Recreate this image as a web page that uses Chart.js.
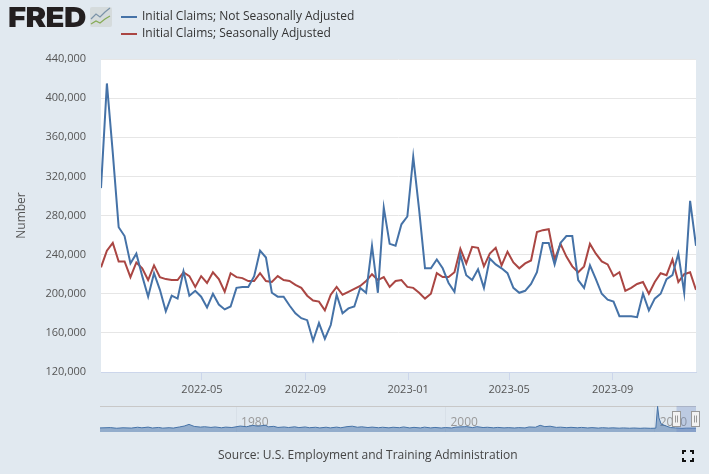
<!DOCTYPE html>
<html><head><meta charset="utf-8">
<script src="https://cdn.jsdelivr.net/npm/chart.js@4"></script>
<style>
html,body{margin:0;padding:0;background:#e1e9f0;width:709px;height:474px;overflow:hidden;font-family:"Open Sans",sans-serif}
#main{position:absolute;left:0;top:0}
#nav{position:absolute;left:90px;top:400px}
.abs{position:absolute;white-space:nowrap}
.leg{font-size:12px;color:#333;left:142px;line-height:16px}
.swatch{position:absolute;left:121px;width:16px;height:2px}
#logo{left:8px;top:2px;font:900 27.5px/30px Inter,sans-serif;letter-spacing:-.6px;color:#231f20;transform:scaleX(1.13);transform-origin:left center}
#src{left:218px;top:446px;font-size:12px;line-height:18px;color:#444}
</style></head><body>
<canvas id="main" width="709" height="474"></canvas>
<canvas id="nav" width="619" height="40"></canvas>
<div class="abs" id="logo">FRED</div>
<svg class="abs" style="left:89px;top:6px" width="24" height="22" viewBox="0 0 24 22">
<rect x="1" y="1" width="22" height="20" rx="2" fill="#d5dbdc"/>
<polyline points="2,13 7,8 11,11 16,6 21,2" fill="none" stroke="#7b93a8" stroke-width="1.2"/>
<polyline points="2,18 7,15 11,17 16,13 21,10" fill="none" stroke="#86ab55" stroke-width="1.2"/>
</svg>
<div class="swatch" id="sw0" style="top:16px"></div>
<div class="abs leg" id="lg0" style="top:8px"></div>
<div class="swatch" id="sw1" style="top:33px"></div>
<div class="abs leg" id="lg1" style="top:25px"></div>
<div class="abs" id="src">Source: U.S. Employment and Training Administration</div>
<svg class="abs" style="left:682px;top:450px" width="12" height="12" viewBox="0 0 12 12">
<path d="M1 4V1H4M8 1H11V4M11 8V11H8M4 11H1V8" fill="none" stroke="#111" stroke-width="2"/>
</svg>
<script>
const seriesNames = ['Initial Claims; Not Seasonally Adjusted','Initial Claims; Seasonally Adjusted'];
const seriesColors = ['#4572a7','#aa4643'];
const firstWeek = '2022-01-01';
const xTickLabels = ['2022-05','2022-09','2023-01','2023-05','2023-09'];
const claimsNSA = [308,415,344,268,259,231,241,218,197,221,204,182,198,195,223,198,203,197,186,200,189,184,187,206,207,207,218,244,237,201,197,197,188,180,175,173,152,170,154,168,199,180,185,187,206,201,249,201,288,251,249,271,279,340,286,226,226,235,226,211,202,240,219,214,225,206,236,230,226,221,206,201,203,210,222,252,252,230,252,259,259,214,206,229,215,200,194,192,177,177,177,176,200,183,195,200,215,219,241,201,295,249];
const claimsSA = [227,244,252,233,233,217,232,226,214,229,217,215,214,214,222,218,207,218,211,222,215,202,221,217,216,213,213,221,213,212,218,214,213,209,206,198,193,192,183,199,207,199,202,205,208,213,220,214,217,207,213,214,207,206,201,195,200,221,217,217,222,246,231,248,247,228,241,247,229,243,232,226,231,234,263,265,266,235,251,238,228,222,228,251,241,233,230,218,222,203,206,210,212,200,212,221,219,235,212,220,222,204];
const navYears = [1967,1968,1968.6,1969.2,1970,1970.6,1971,1971.6,1972,1972.6,1973,1973.6,1974,1974.6,1975.05,1975.5,1976,1976.6,1977,1977.6,1978,1978.6,1979,1979.6,1980.4,1981,1981.6,1982.1,1982.8,1983.1,1983.6,1984,1984.6,1985,1985.6,1986,1986.6,1987,1987.6,1988,1988.6,1989,1989.6,1990,1990.6,1991.1,1991.6,1992,1992.6,1993,1993.6,1994,1994.6,1995,1995.6,1996,1996.6,1997,1997.6,1998,1998.6,1999,1999.6,2000,2000.6,2001,2001.8,2002,2002.6,2003,2003.6,2004,2004.6,2005,2005.6,2006,2006.6,2007,2007.6,2008,2008.6,2009.05,2009.5,2010,2010.6,2011,2011.6,2012,2012.6,2013,2013.6,2014,2014.6,2015,2015.6,2016,2016.6,2017,2017.6,2018,2018.6,2019,2019.6,2020.1,2020.27,2020.4,2020.6,2021,2021.5,2022,2022.6,2023,2023.94];
const navClaims = [300,380,210,340,260,480,330,520,280,420,240,360,260,560,800,1250,700,520,620,430,560,340,520,400,800,620,980,760,1030,600,720,420,560,400,600,380,560,350,480,300,490,310,520,340,640,760,480,600,400,520,350,480,320,480,360,560,300,450,290,510,300,430,280,400,290,520,620,660,380,640,400,480,320,440,310,380,280,380,300,560,480,1000,640,760,440,500,360,460,330,440,290,380,250,360,260,320,230,300,210,280,190,260,190,230,6100,3000,1400,900,400,300,180,240,230];
const navSelection = [2022.08, 2023.94];
const navTicks = [1980,2000,2020];

const F = '"Open Sans", sans-serif';
const t0 = Date.parse(firstWeek);
const weekMs = 7*864e5;
const toPoints = a => a.map((v,i)=>({x:t0+i*weekMs,y:v*1000}));
const tickMs = xTickLabels.map(s=>Date.parse(s+'-01'));
seriesNames.forEach((n,i)=>{
  document.getElementById('lg'+i).textContent=n;
  document.getElementById('sw'+i).style.background=seriesColors[i];
});

const plotBg = {id:'plotBg',beforeDraw(c){const a=c.chartArea;c.ctx.save();c.ctx.fillStyle='#fff';c.ctx.fillRect(a.left,a.top,a.right-a.left,a.bottom-a.top);c.ctx.restore();}};
new Chart(document.getElementById('main'),{
  type:'line',
  data:{datasets:[
    {label:seriesNames[0],data:toPoints(claimsNSA),borderColor:seriesColors[0],borderWidth:2,pointRadius:0,tension:0},
    {label:seriesNames[1],data:toPoints(claimsSA),borderColor:seriesColors[1],borderWidth:2,pointRadius:0,tension:0}
  ]},
  plugins:[plotBg],
  options:{
    responsive:false,animation:false,devicePixelRatio:1,
    layout:{padding:{left:12,right:13,top:59,bottom:72}},
    plugins:{legend:{display:false},tooltip:{enabled:false}},
    scales:{
      x:{type:'linear',min:t0,max:t0+(claimsNSA.length-1)*weekMs,
        afterBuildTicks(s){s.ticks=tickMs.map(v=>({value:v}));},
        afterFit(s){s.height=30;},
        grid:{drawOnChartArea:false,drawTicks:true,tickLength:8,color:'#ccd6eb'},
        border:{color:'#ccd6eb'},
        ticks:{autoSkip:false,maxRotation:0,padding:3,color:'#555',font:{family:F,size:11},
          callback(v){return xTickLabels[tickMs.indexOf(v)]||'';}}
      },
      y:{min:120000,max:440000,
        afterFit(s){s.width=89;},
        grid:{color:'#e6e6e6',lineWidth:1,drawTicks:false},
        border:{display:false},
        title:{display:true,text:'Number',color:'#555',font:{family:F,size:12},padding:{top:2,bottom:0}},
        ticks:{stepSize:40000,padding:15,color:'#555',font:{family:F,size:11},
          callback(v){return v.toLocaleString('en-US');}}
      }
    }
  }
});

const navDecor = {id:'navDecor',
  beforeDatasetsDraw(c){
    const x=c.scales.x,ctx=c.ctx,a=c.chartArea;
    ctx.save();ctx.fillStyle='#999';ctx.font='12px '+F;ctx.textBaseline='middle';
    navTicks.forEach(y=>ctx.fillText(String(y),x.getPixelForValue(y)+5,a.top+17));
    ctx.strokeStyle='#c8c8c8';ctx.beginPath();ctx.moveTo(a.left,a.top+.5);ctx.lineTo(a.right,a.top+.5);ctx.stroke();
    ctx.restore();
  },
  afterDatasetsDraw(c){
    const x=c.scales.x,ctx=c.ctx,a=c.chartArea;
    const l=x.getPixelForValue(navSelection[0]),r=x.getPixelForValue(navSelection[1]);
    ctx.save();
    ctx.fillStyle='rgba(102,133,194,0.3)';ctx.fillRect(l,a.top,r-l,a.bottom-a.top);
    [l,r].forEach(p=>{
      const hx=Math.round(p)-4.5,hy=a.top+5.5;
      ctx.fillStyle='#f2f2f2';ctx.strokeStyle='#999';ctx.lineWidth=1;
      ctx.fillRect(hx,hy,8,15);ctx.strokeRect(hx,hy,8,15);
      ctx.beginPath();ctx.moveTo(hx+3,hy+4);ctx.lineTo(hx+3,hy+11);ctx.moveTo(hx+5,hy+4);ctx.lineTo(hx+5,hy+11);ctx.stroke();
    });
    ctx.restore();
  }
};
new Chart(document.getElementById('nav'),{
  type:'line',
  data:{datasets:[{data:navYears.map((y,i)=>({x:y,y:navClaims[i]})),borderColor:'#4572a7',borderWidth:1,backgroundColor:'rgba(69,114,167,0.5)',fill:'start',pointRadius:0,tension:0}]},
  plugins:[navDecor],
  options:{
    responsive:false,animation:false,devicePixelRatio:1,
    layout:{padding:{left:10,right:13,top:6,bottom:8}},
    plugins:{legend:{display:false},tooltip:{enabled:false}},
    scales:{
      x:{type:'linear',min:1967,max:2023.94,
        afterBuildTicks(s){s.ticks=navTicks.map(v=>({value:v}));},
        afterFit(s){s.height=0;},
        grid:{color:'#d8e0e8',drawTicks:false},border:{display:false},ticks:{display:false}},
      y:{display:false,min:-800,max:6200}
    }
  }
});
</script>
</body></html>
